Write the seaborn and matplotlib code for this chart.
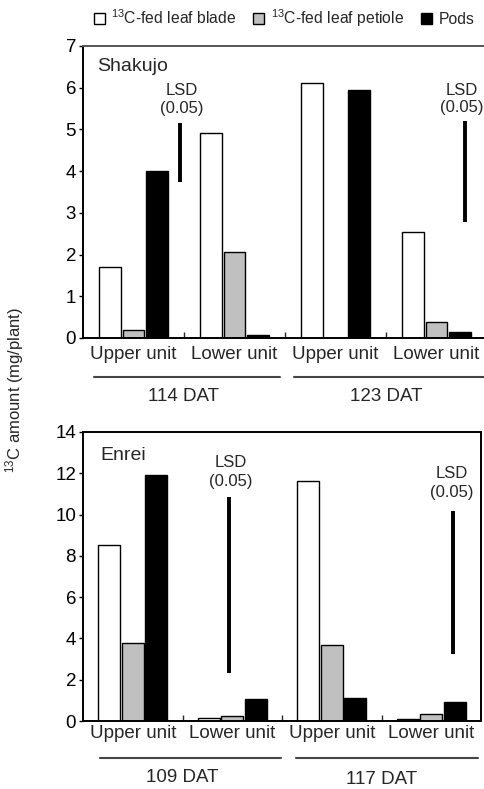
import matplotlib
matplotlib.use("Agg")
import matplotlib.pyplot as plt
import seaborn as sns
import pandas as pd
from matplotlib.patches import Patch
from matplotlib.transforms import blended_transform_factory

sns.set_theme(style="ticks")
plt.rcParams['font.family'] = ['Liberation Sans', 'DejaVu Sans']
plt.rcParams['mathtext.fontset'] = 'custom'
plt.rcParams['mathtext.rm'] = 'Liberation Sans'
plt.rcParams['mathtext.it'] = 'Liberation Sans:italic'

# ---- data -------------------------------------------------------------
parts = [r"$^{13}$C-fed leaf blade", r"$^{13}$C-fed leaf petiole", "Pods"]
part_colors = ["white", "#c0c0c0", "black"]
unit_labels = ["Upper unit", "Lower unit", "Upper unit", "Lower unit"]
groups = ["g1", "g2", "g3", "g4"]

shakujo_dat = ["114 DAT", "123 DAT"]
shakujo_blade = [1.70, 4.91, 6.11, 2.54]
shakujo_petiole = [0.20, 2.07, 0.0, 0.39]
shakujo_pods = [4.00, 0.06, 5.95, 0.15]
shakujo_lsd = [(0.465, 3.73, 5.15), (3.28, 2.77, 5.20)]

enrei_dat = ["109 DAT", "117 DAT"]
enrei_blade = [8.55, 0.13, 11.63, 0.08]
enrei_petiole = [3.79, 0.24, 3.66, 0.35]
enrei_pods = [11.94, 1.05, 1.13, 0.94]
enrei_lsd = [(0.965, 2.34, 10.85), (3.22, 3.23, 10.16)]


def long_frame(blade, petiole, pods):
    rows = []
    for series, vals in zip(parts, [blade, petiole, pods]):
        for g, v in zip(groups, vals):
            rows.append({"group": g, "part": series, "value": v})
    return pd.DataFrame(rows)


W, H = 484, 789
fig = plt.figure(figsize=(W / 100, H / 100), dpi=100)

ax_top = fig.add_axes([83 / W, (H - 338) / H, 404 / W, 292 / H])
ax_bot = fig.add_axes([83 / W, (H - 721) / H, 398 / W, 289 / H])

palette = dict(zip(parts, part_colors))


def draw_panel(ax, blade, petiole, pods, ymax, yticks, name, name_xy,
               lsd, lsd_text_y, dat, lines, label_off, line_off, dat_off):
    df = long_frame(blade, petiole, pods)
    sns.barplot(data=df, x="group", y="value", hue="part", order=groups,
                hue_order=parts, palette=palette, edgecolor="black",
                linewidth=1.0, width=0.71, gap=0.08, legend=False, ax=ax,
                errorbar=None)
    ax.set_xlim(-0.5, 3.5)
    ax.set_ylim(0, ymax)
    ax.set_yticks(yticks)
    ax.set_xlabel("")
    ax.set_ylabel("")
    ax.tick_params(axis="y", labelsize=13.5, direction="out", length=3,
                   width=1, pad=2, colors="black")
    # separators between groups as inward ticks, unit names as minor labels
    ax.set_xticks([0.5, 1.5, 2.5])
    ax.set_xticklabels([])
    ax.tick_params(axis="x", which="major", direction="in", length=4, width=1)
    ax.set_xticks(range(4), minor=True)
    ax.set_xticklabels(unit_labels, minor=True)
    ax.tick_params(axis="x", which="minor", length=0, labelsize=13.5,
                   pad=label_off)
    for s in ax.spines.values():
        s.set_linewidth(1.4)
        s.set_color("black")
    ax.text(name_xy[0], name_xy[1], name, fontsize=14, ha="left",
            va="center")
    for (x, y0, y1), (ty1, ty2, tx) in zip(lsd, lsd_text_y):
        ax.plot([x, x], [y0, y1], color="black", lw=2.8,
                solid_capstyle="butt")
        ax.text(tx, ty1, "LSD", fontsize=12, ha="center", va="center")
        ax.text(tx, ty2, "(0.05)", fontsize=12, ha="center", va="center")
    trans = blended_transform_factory(ax.transData, ax.transAxes)
    ax_h = ax.get_position().height * H
    for (x0, x1, xc, doff), d in zip(lines, dat):
        ax.plot([x0, x1], [-line_off / ax_h] * 2, color="#444444", lw=1.5,
                transform=trans, clip_on=False)
        ax.text(xc, -(dat_off + doff) / ax_h, d, fontsize=13.5, ha="center",
                va="center", transform=trans)


draw_panel(ax_top, shakujo_blade, shakujo_petiole, shakujo_pods, 7,
           range(0, 8), "Shakujo", (-0.36, 6.5), shakujo_lsd,
           [(5.93, 5.50, 0.48), (5.93, 5.52, 3.25)], shakujo_dat,
           [(-0.39, 1.45, 0.5, 0), (1.59, 3.7, 2.5, 0)], 6, 39, 59)
ax_top.spines["top"].set_color("#555555")

draw_panel(ax_bot, enrei_blade, enrei_petiole, enrei_pods, 14,
           range(0, 15, 2), "Enrei", (-0.33, 12.84), enrei_lsd,
           [(12.5, 11.58, 0.985), (12.0, 11.05, 3.21)], enrei_dat,
           [(-0.33, 1.49, 0.5, 0), (1.64, 3.47, 2.5, 3)], 3, 37, 56)

# legend across the top
handles = [Patch(facecolor=c, edgecolor="black", linewidth=1.0)
           for c in part_colors]
fig.legend(handles, parts, loc="center", bbox_to_anchor=(284 / W, 1 - 18 / H),
           ncol=3, frameon=False, fontsize=11.3, handlelength=0.7,
           handleheight=0.7, handletextpad=0.4, columnspacing=1.1)

fig.text(15 / W, 1 - 390 / H, r"$^{13}$C amount (mg/plant)", rotation=90,
         ha="center", va="center", fontsize=12)

fig.savefig("out.png", dpi=100)
